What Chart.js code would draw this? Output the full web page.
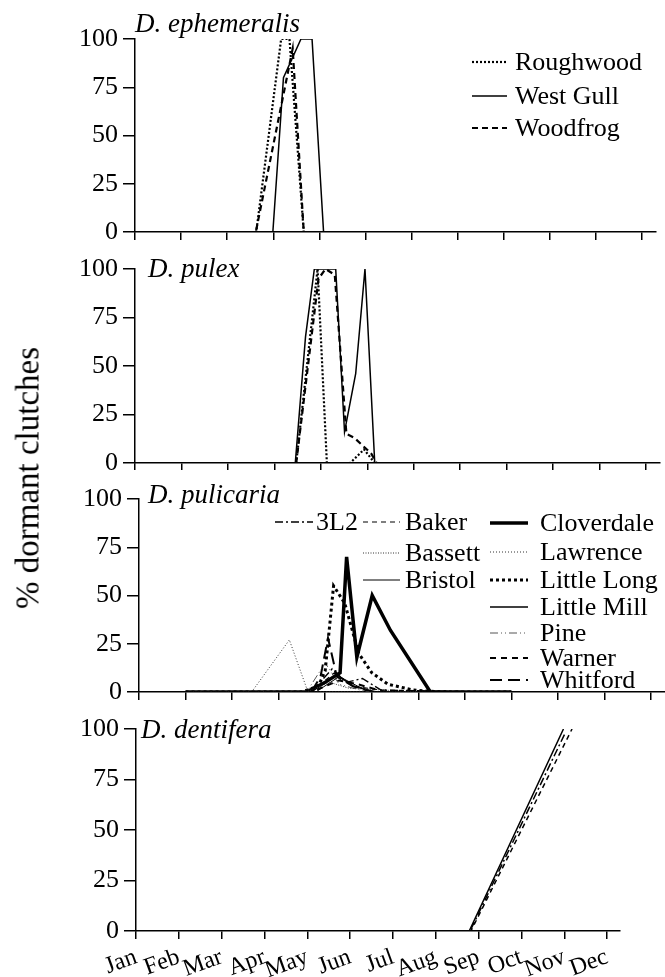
<!DOCTYPE html>
<html>
<head>
<meta charset="utf-8">
<script src="https://cdn.jsdelivr.net/npm/chart.js@4.4.1/dist/chart.umd.min.js"></script>
<style>
  body { margin: 0; background: #fff; width: 665px; height: 977px; position: relative; overflow: hidden; }
  canvas { position: absolute; left: 0; }
  #ylab { position: absolute; left: 28px; top: 478px; transform: translate(-50%, -50%) rotate(-90deg);
          font: 33px "Liberation Serif", serif; white-space: nowrap; color: #000; }
</style>
</head>
<body>
<canvas id="c1" width="665" height="240" style="top:0"></canvas>
<canvas id="c2" width="665" height="230" style="top:240px"></canvas>
<canvas id="c3" width="665" height="230" style="top:470px"></canvas>
<canvas id="c4" width="665" height="277" style="top:700px"></canvas>
<div id="ylab">% dormant clutches</div>
<script>
// x = months since 1 Jan (0 = Jan, 11 = Dec), y = % dormant clutches
const monthLabels = ['Jan','Feb','Mar','Apr','May','Jun','Jul','Aug','Sep','Oct','Nov','Dec'];
const yTicks = [0, 25, 50, 75, 100];

// D. ephemeralis
const ephRoughwoodX = [2.0, 2.63, 3.17, 3.35, 3.66, 3.85];
const ephRoughwoodY = [0, 0, 100, 100, 0, 0];
const ephWestGullX = [2.0, 2.99, 3.22, 3.6, 3.84, 4.09, 4.5];
const ephWestGullY = [0, 0, 80, 100, 100, 0, 0];
const ephWoodfrogX = [2.0, 2.62, 3.42, 3.66, 3.85];
const ephWoodfrogY = [0, 0, 95, 0, 0];

// D. pulex
const pulRoughwoodX = [2.6, 3.47, 3.93, 4.13, 4.63, 4.93, 5.16, 5.6];
const pulRoughwoodY = [0, 0, 100, 0, 0, 7, 0, 0];
const pulWestGullX = [2.6, 3.45, 3.67, 3.86, 4.32, 4.51, 4.75, 4.95, 5.16, 5.6];
const pulWestGullY = [0, 0, 65, 100, 100, 16, 46, 100, 0, 0];
const pulWoodfrogX = [2.6, 3.47, 3.95, 4.1, 4.3, 4.55, 4.72, 5.08, 5.2, 5.6];
const pulWoodfrogY = [0, 0, 95, 100, 97, 15, 13, 5, 0, 0];

// D. pulicaria
const p3L2X = [1.0, 3.7, 4.15, 4.45, 4.8, 5.2, 7.5];
const p3L2Y = [0, 0, 12, 5, 7, 1, 0];
const pBakerX = [1.0, 3.7, 4.2, 4.6, 5.2, 7.5];
const pBakerY = [0, 0, 10, 3, 1, 0];
const pBassettX = [1.0, 3.6, 4.1, 4.5, 6.0];
const pBassettY = [0, 0, 5, 2, 0];
const pBristolX = [1.0, 3.8, 4.3, 4.7, 5.0, 7.5];
const pBristolY = [0, 0, 8, 3, 0, 0];
const pCloverdaleX = [1.0, 3.6, 4.0, 4.32, 4.46, 4.68, 5.01, 5.4, 6.26, 8.0];
const pCloverdaleY = [0, 0, 5, 10, 70, 18, 50, 32, 0, 0];
const pLawrenceX = [1.0, 2.42, 3.23, 3.63, 8.0];
const pLawrenceY = [0, 0, 27, 0, 0];
const pLittleLongX = [1.0, 3.5, 3.85, 4.0, 4.18, 4.42, 4.72, 5.0, 5.35, 5.9, 6.5, 8.0];
const pLittleLongY = [0, 0, 3, 11, 55, 46, 20, 10, 4, 1, 0, 0];
const pLittleMillX = [1.0, 3.7, 4.25, 4.6, 5.1, 7.5];
const pLittleMillY = [0, 0, 9, 3, 0, 0];
const pPineX = [1.0, 3.6, 4.0, 4.3, 4.9, 7.5];
const pPineY = [0, 0, 15, 4, 0, 0];
const pWarnerX = [1.0, 3.7, 4.3, 4.7, 5.3, 7.5];
const pWarnerY = [0, 0, 6, 4, 0, 0];
const pWhitfordX = [1.0, 3.7, 3.9, 4.06, 4.25, 4.6, 5.0, 7.5];
const pWhitfordY = [0, 0, 8, 28, 8, 3, 0, 0];

// D. dentifera
const dentAX = [0, 7.78, 9.98];
const dentAY = [0, 0, 100];
const dentBX = [0, 7.8, 10.02];
const dentBY = [0, 0, 98];
const dentCX = [0, 7.82, 10.18];
const dentCY = [0, 0, 100];

const SERIF = '"Liberation Serif", "Times New Roman", serif';

function pts(xs, ys) {
    return xs.map((x, i) => ({ x, y: ys[i] }));
}

function line(label, xs, ys, width, dash, color = '#000') {
    return {
        label, data: pts(xs, ys),
        borderColor: color, borderWidth: width, borderDash: dash,
        pointRadius: 0, tension: 0, fill: false, borderJoinStyle: 'miter'
    };
}

// italic species name + hand-placed legend, drawn after the chart
const panelDecor = {
    id: 'panelDecor',
    afterDraw(chart, args, opts) {
        const ctx = chart.ctx;
        ctx.save();
        ctx.fillStyle = '#000';
        ctx.font = `italic 27px ${SERIF}`;
        ctx.textBaseline = 'alphabetic';
        ctx.fillText(opts.title, opts.titleX, opts.titleY);
        ctx.font = `${opts.legendSize || 26}px ${SERIF}`;
        ctx.textBaseline = 'middle';
        (opts.legend || []).forEach(item => {
            const ds = chart.data.datasets.find(d => d.label === item.name);
            ctx.beginPath();
            ctx.setLineDash(ds.borderDash || []);
            ctx.lineWidth = ds.borderWidth;
            ctx.strokeStyle = ds.borderColor;
            ctx.moveTo(item.x0, item.y);
            ctx.lineTo(item.x1, item.y);
            ctx.stroke();
            ctx.setLineDash([]);
            ctx.fillText(item.name, item.tx, item.y + 1);
        });
        ctx.restore();
    }
};

function scales(showMonths, xHeight, yWidth) {
    return {
        x: {
            type: 'linear', min: 0, max: 11.3,
            afterFit: s => { s.height = xHeight; s.paddingLeft = 0; s.paddingRight = 0; },
            border: { display: true, color: '#000', width: 1.5 },
            grid: { drawOnChartArea: false, drawTicks: true, tickLength: 8, color: '#000', lineWidth: 1.5 },
            ticks: {
                display: showMonths, stepSize: 1, includeBounds: false, autoSkip: false,
                minRotation: 20, maxRotation: 20, padding: 4, color: '#000',
                font: { family: SERIF, size: 24 },
                callback: v => monthLabels[v]
            }
        },
        y: {
            min: 0, max: 100,
            // fixed width, and no extra room reserved for half-height end labels
            afterFit: s => { s.width = yWidth; s.paddingTop = 0; s.paddingBottom = 0; },
            border: { display: true, color: '#000', width: 1.5 },
            grid: { drawOnChartArea: false, drawTicks: true, tickLength: 12, color: '#000', lineWidth: 1.5 },
            afterBuildTicks: s => { s.ticks = yTicks.map(v => ({ value: v })); },
            ticks: { padding: 5, color: '#000', font: { family: SERIF, size: 26 } }
        }
    };
}

function makePanel(id, datasets, pad, showMonths, xHeight, yWidth, decor) {
    return new Chart(document.getElementById(id), {
        type: 'line',
        data: { datasets },
        options: {
            responsive: false, animation: false,
            layout: { padding: pad },
            scales: scales(showMonths, xHeight, yWidth),
            plugins: { legend: { display: false }, tooltip: { enabled: false }, panelDecor: decor }
        },
        plugins: [panelDecor]
    });
}

makePanel('c1', [
    line('Roughwood', ephRoughwoodX, ephRoughwoodY, 2.2, [2, 2]),
    line('West Gull', ephWestGullX, ephWestGullY, 1.5, []),
    line('Woodfrog', ephWoodfrogX, ephWoodfrogY, 2.2, [6, 4])
], { top: 39, right: 9, left: 0, bottom: 0 }, false, 8, 135, {
    title: 'D. ephemeralis', titleX: 135, titleY: 32, legendSize: 26,
    legend: [
        { name: 'Roughwood', x0: 472, x1: 507, tx: 515, y: 62 },
        { name: 'West Gull', x0: 472, x1: 507, tx: 515, y: 96 },
        { name: 'Woodfrog', x0: 472, x1: 507, tx: 515, y: 128 }
    ]
});

makePanel('c2', [
    line('Roughwood', pulRoughwoodX, pulRoughwoodY, 2.2, [2, 2]),
    line('West Gull', pulWestGullX, pulWestGullY, 1.5, []),
    line('Woodfrog', pulWoodfrogX, pulWoodfrogY, 2.2, [6, 4])
], { top: 29, right: 5, left: 0, bottom: 0 }, false, 7, 135, {
    title: 'D. pulex', titleX: 148, titleY: 37, legend: []
});

makePanel('c3', [
    line('3L2', p3L2X, p3L2Y, 1.4, [8, 3, 2, 3]),
    line('Baker', pBakerX, pBakerY, 1.2, [5, 4]),
    line('Bassett', pBassettX, pBassettY, 1, [1, 1.5], '#333'),
    line('Bristol', pBristolX, pBristolY, 1, []),
    line('Cloverdale', pCloverdaleX, pCloverdaleY, 3.5, []),
    line('Lawrence', pLawrenceX, pLawrenceY, 1, [1, 2], '#333'),
    line('Little Long', pLittleLongX, pLittleLongY, 3, [3, 3]),
    line('Little Mill', pLittleMillX, pLittleMillY, 1.5, []),
    line('Pine', pPineX, pPineY, 1, [8, 3, 1, 3, 1, 3], '#555'),
    line('Warner', pWarnerX, pWarnerY, 2, [6, 5]),
    line('Whitford', pWhitfordX, pWhitfordY, 2, [12, 6])
], { top: 29, right: 0, left: 0, bottom: 0 }, false, 8, 139, {
    title: 'D. pulicaria', titleX: 148, titleY: 33, legendSize: 26,
    legend: [
        { name: '3L2', x0: 275, x1: 313, tx: 316, y: 52 },
        { name: 'Baker', x0: 363, x1: 400, tx: 405, y: 52 },
        { name: 'Bassett', x0: 363, x1: 400, tx: 405, y: 83 },
        { name: 'Bristol', x0: 363, x1: 400, tx: 405, y: 110 },
        { name: 'Cloverdale', x0: 490, x1: 528, tx: 540, y: 53 },
        { name: 'Lawrence', x0: 490, x1: 528, tx: 540, y: 82 },
        { name: 'Little Long', x0: 490, x1: 528, tx: 540, y: 110 },
        { name: 'Little Mill', x0: 490, x1: 528, tx: 540, y: 137 },
        { name: 'Pine', x0: 490, x1: 528, tx: 540, y: 163 },
        { name: 'Warner', x0: 490, x1: 528, tx: 540, y: 188 },
        { name: 'Whitford', x0: 490, x1: 528, tx: 540, y: 210 }
    ]
});

makePanel('c4', [
    line('dentifera A', dentAX, dentAY, 1.5, []),
    line('dentifera B', dentBX, dentBY, 1.5, [8, 3, 2, 3]),
    line('dentifera C', dentCX, dentCY, 1.5, [5, 4])
], { top: 29, right: 45, left: 0, bottom: 0 }, true, 46, 136, {
    title: 'D. dentifera', titleX: 141, titleY: 38, legend: []
});
</script>
</body>
</html>
